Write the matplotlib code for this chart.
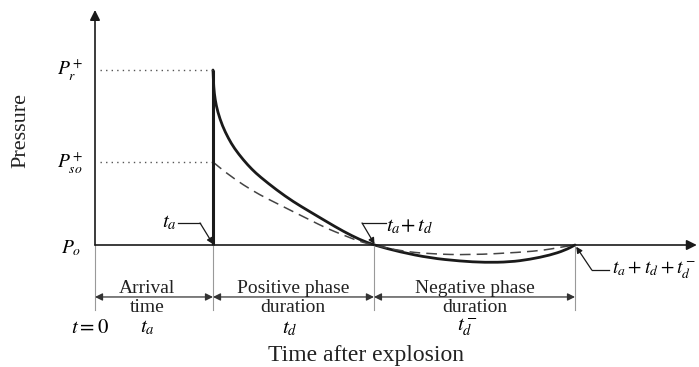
import matplotlib
matplotlib.use("Agg")
import matplotlib.pyplot as plt
from matplotlib.path import Path
from matplotlib.patches import PathPatch

# ── Key times (t_a = 1) and pressure levels (P_r+ = 1) ─────────────────────
T_A = 1.0
T_AD = 2.364          # t_a + t_d
T_ADN = 4.068         # t_a + t_d + t_d^-
P_R = 1.0
P_SO = 0.474

# reflected pressure history (solid)
solid_t = [1.000, 1.006, 1.018, 1.040, 1.080, 1.130, 1.180, 1.257, 1.330, 1.398,
           1.540, 1.681, 1.822, 1.964, 2.104, 2.246, 2.364,
           2.585, 2.839, 3.093, 3.305, 3.517, 3.686, 3.856, 3.983, 4.068]
solid_p = [1.000, 0.900, 0.830, 0.760, 0.680, 0.610, 0.553, 0.486, 0.432, 0.390,
           0.314, 0.247, 0.190, 0.133, 0.078, 0.030, 0.000,
           -0.040, -0.074, -0.092, -0.100, -0.097, -0.082, -0.058, -0.030, 0.000]

# incident pressure history (dashed)
dash_t = [1.000, 1.116, 1.257, 1.398, 1.540, 1.681, 1.822, 1.964, 2.104, 2.246, 2.364,
          2.585, 2.839, 3.178, 3.602, 3.814, 3.941, 4.068]
dash_p = [0.474, 0.410, 0.343, 0.286, 0.238, 0.190, 0.143, 0.095, 0.057, 0.019, 0.000,
          -0.034, -0.051, -0.057, -0.042, -0.029, -0.013, 0.000]

SERIF = "Liberation Serif"
plt.rcParams["mathtext.fontset"] = "stix"

INK = "#1a1a1a"
GREY = "#555555"


def smooth_path(xs, ys):
    """Quadratic curve through the midpoints of the read points."""
    pts = list(zip(xs, ys))
    verts = [pts[0]]
    codes = [Path.MOVETO]
    mid = lambda a, b: ((a[0] + b[0]) / 2, (a[1] + b[1]) / 2)
    verts.append(mid(pts[0], pts[1]))
    codes.append(Path.LINETO)
    for i in range(1, len(pts) - 1):
        verts += [pts[i], mid(pts[i], pts[i + 1])]
        codes += [Path.CURVE3, Path.CURVE3]
    verts.append(pts[-1])
    codes.append(Path.LINETO)
    return Path(verts, codes)


fig = plt.figure(figsize=(6.99, 3.67), dpi=100)
ax = fig.add_axes([0, 0, 1, 1])
ax.set_xlim(-95 / 118, (699 - 95) / 118)
ax.set_ylim(-122 / 175, 245 / 175)
ax.axis("off")

# axes with arrowheads
ax.annotate("", xy=(0, 1.343), xytext=(0, 0),
            arrowprops=dict(arrowstyle="-|>", color=INK, lw=1.2,
                            mutation_scale=15, shrinkA=0, shrinkB=0))
ax.annotate("", xy=(5.10, 0), xytext=(0, 0),
            arrowprops=dict(arrowstyle="-|>", color=INK, lw=1.2,
                            mutation_scale=15, shrinkA=0, shrinkB=0))

# dotted reference levels
ax.plot([0.04, T_A], [P_R, P_R], ls=(0, (1, 3)), color=GREY, lw=1)
ax.plot([0.04, T_A], [P_SO, P_SO], ls=(0, (1, 3)), color=GREY, lw=1)

# shock front and curves
ax.plot([T_A, T_A], [0, P_R], color=INK, lw=2.2, solid_capstyle="butt")
ax.add_patch(PathPatch(smooth_path(solid_t, solid_p), fill=False,
                       edgecolor=INK, lw=2, capstyle="round"))
ax.add_patch(PathPatch(smooth_path(dash_t, dash_p), fill=False,
                       edgecolor="#444444", lw=1.1, ls=(0, (7, 4))))

# pressure labels
lab = dict(fontsize=14, ha="center", va="center")
ax.text(-0.21, P_R, r"$P_r^+$", **lab)
ax.text(-0.21, P_SO, r"$P_{so}^+$", **lab)
ax.text(-0.2, -0.02, r"$P_o$", **lab)
ax.text(-0.63, 0.655, "Pressure", rotation=90, family=SERIF, fontsize=16,
        ha="center", va="center", color="#222222")


# leader annotations
def leader(tip, knee, end, text, tx, ty, size=14):
    ax.plot([end[0], knee[0]], [end[1], knee[1]], color=INK, lw=0.9)
    ax.annotate("", xy=tip, xytext=knee,
                arrowprops=dict(arrowstyle="-|>", color=INK, lw=0.9,
                                mutation_scale=9, shrinkA=0, shrinkB=0))
    ax.text(tx, ty, text, fontsize=size, ha="left", va="center")


leader((T_A, 0.005), (0.89, 0.126), (0.70, 0.126), r"$t_a$", 0.57, 0.13, 15)
leader((T_AD + 0.005, 0.005), (2.263, 0.126), (2.47, 0.126),
       r"$t_a\!+t_d$", 2.47, 0.11, 15)
leader((T_ADN + 0.01, -0.01), (4.21, -0.143), (4.36, -0.143),
       r"$t_a+t_d+t_d^-$", 4.38, -0.143)

# extension lines and dimension arrows
for xv in [0, T_A, T_AD, T_ADN]:
    ax.plot([xv, xv], [0, -0.37], color="#999999", lw=0.8)
DIM_Y = -0.297
for a, b in [(0, T_A), (T_A, T_AD), (T_AD, T_ADN)]:
    ax.annotate("", xy=(b, DIM_Y), xytext=(a, DIM_Y),
                arrowprops=dict(arrowstyle="<|-|>", color="#333333", lw=0.9,
                                mutation_scale=11, shrinkA=0, shrinkB=0))

txt = dict(family=SERIF, fontsize=14, ha="center", color="#222222")
phase_x = [0.44, 1.68, 3.22]
phase_top = ["Arrival", "Positive phase", "Negative phase"]
phase_bot = ["time", "duration", "duration"]
for x, a, b in zip(phase_x, phase_top, phase_bot):
    ax.text(x, -0.277, a, va="baseline", **txt)
    ax.text(x, -0.385, b, va="baseline", **txt)

sym = dict(fontsize=15, ha="center", va="center")
ax.text(-0.04, -0.47, r"$t=0$", **sym)
ax.text(0.44, -0.47, r"$t_a$", **sym)
ax.text(1.65, -0.475, r"$t_d$", **sym)
ax.text(3.16, -0.47, r"$t_d^-$", **sym)

ax.text(2.30, -0.66, "Time after explosion", family=SERIF, fontsize=17,
        ha="center", va="baseline", color="#222222")

fig.savefig("out.png", dpi=100)
